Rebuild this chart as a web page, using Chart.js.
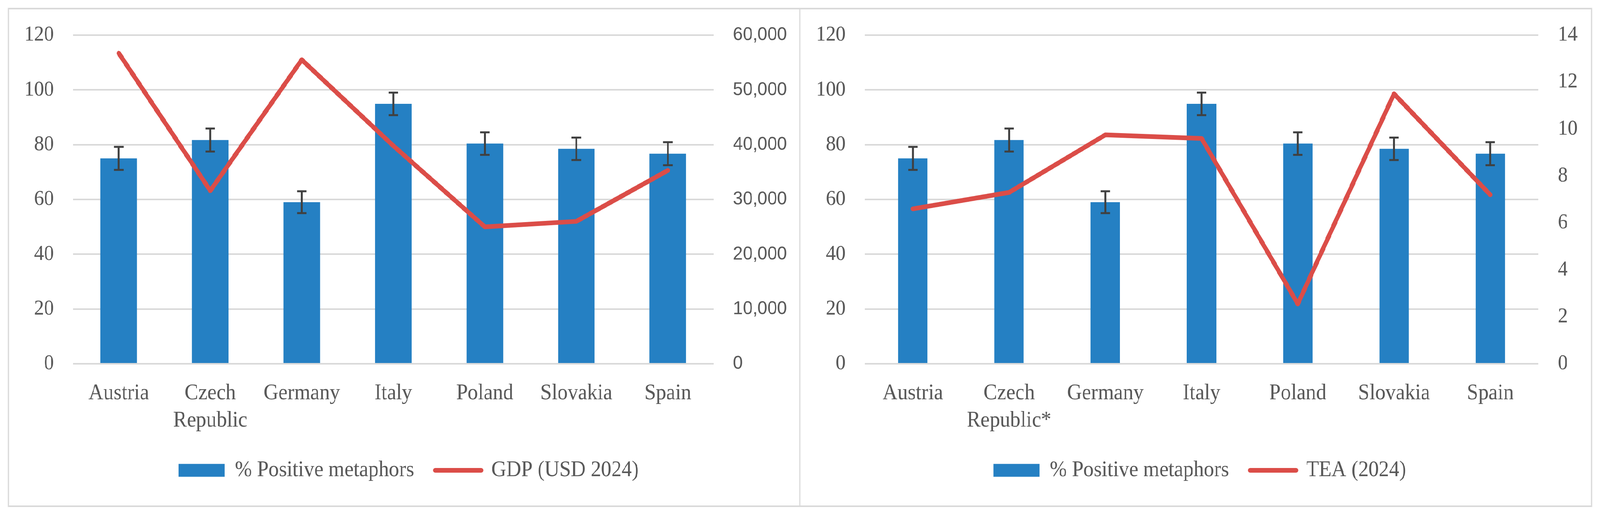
<!DOCTYPE html>
<html>
<head>
<meta charset="utf-8">
<script src="https://cdn.jsdelivr.net/npm/chart.js@4/dist/chart.umd.min.js"></script>
<style>
  html, body { margin: 0; padding: 0; background: #ffffff; overflow: hidden; }
  #page { position: absolute; left: 0; top: 0; width: 4361px; height: 1322px; transform-origin: 0 0; background: #fff; }
  #frame { position: absolute; left: 21px; top: 20px; width: 4319px; height: 1279px; border: 4px solid #d9d9d9; box-sizing: border-box; }
  #divider { position: absolute; left: 2178px; top: 20px; width: 4px; height: 1279px; background: #d9d9d9; }
  canvas { position: absolute; top: 0; }
  #c1 { left: 0; }
  #c2 { left: 2180px; }
</style>
</head>
<body>
<div id="page">
<div id="frame"></div>
<div id="divider"></div>
<canvas id="c1" width="2180" height="1322"></canvas>
<canvas id="c2" width="2181" height="1322"></canvas>
</div>
<script>
// ---- data ----
const countriesGDP = ['Austria', ['Czech', 'Republic'], 'Germany', 'Italy', 'Poland', 'Slovakia', 'Spain'];
const countriesTEA = ['Austria', ['Czech', 'Republic*'], 'Germany', 'Italy', 'Poland', 'Slovakia', 'Spain'];
const positiveMetaphors = [75.0, 81.7, 59.0, 94.9, 80.4, 78.5, 76.7];
const positiveErrors = [4.2, 4.2, 4.0, 4.1, 4.1, 4.1, 4.2];
const gdpUSD2024 = [56700, 31600, 55500, 39800, 25000, 26000, 35300];
const tea2024 = [6.6, 7.3, 9.75, 9.6, 2.55, 11.5, 7.2];
const barLabel = '% Positive metaphors';
const gdpLabel = 'GDP (USD 2024)';
const teaLabel = 'TEA (2024)';

const BLUE = '#2580C3';
const RED = '#DB4D48';
const GREY_TEXT = '#595959';
const GRID = '#d9d9d9';

// fit the 4361x1322 page into the viewport actually given
(function fit() {
  const W = window.innerWidth || 4361, H = window.innerHeight || 1322;
  const sx = W / 4361, sy = H / 1322;
  document.getElementById('page').style.transform = 'scale(' + sx + ',' + sy + ')';
})();

const errorBarPlugin = {
  id: 'errorBars',
  afterDatasetDraw(chart, args) {
    if (args.index !== 0) return;
    const ds = chart.data.datasets[0];
    const ys = chart.scales.y;
    const ctx = chart.ctx;
    ctx.save();
    ctx.strokeStyle = '#404040';
    ctx.lineWidth = 5;
    ctx.lineCap = 'butt';
    args.meta.data.forEach((bar, i) => {
      const v = ds.data[i], e = ds.errors[i];
      const x = bar.x;
      const yt = ys.getPixelForValue(v + e);
      const yb = ys.getPixelForValue(v - e);
      const hw = 13;
      ctx.beginPath();
      ctx.moveTo(x, yt); ctx.lineTo(x, yb);
      ctx.moveTo(x - hw, yt); ctx.lineTo(x + hw, yt);
      ctx.moveTo(x - hw, yb); ctx.lineTo(x + hw, yb);
      ctx.stroke();
    });
    ctx.restore();
  }
};

function build(id, labels, barPct, lineData, lineLabel, y1cfg, geo) {
  return new Chart(document.getElementById(id), {
    data: {
      labels: labels,
      datasets: [
        { type: 'bar', label: barLabel, data: positiveMetaphors, errors: positiveErrors,
          backgroundColor: BLUE, borderWidth: 0, barPercentage: barPct, categoryPercentage: 1,
          yAxisID: 'y', order: 2 },
        { type: 'line', label: lineLabel, data: lineData, borderColor: RED, backgroundColor: RED,
          borderWidth: 12, borderJoinStyle: 'round', borderCapStyle: 'round',
          pointRadius: 0, pointHoverRadius: 0, tension: 0, yAxisID: 'y1', order: 1 }
      ]
    },
    options: {
      responsive: false, animation: false, devicePixelRatio: 1,
      layout: { padding: { left: geo.padL, right: geo.padR, top: 90, bottom: 79 } },
      plugins: {
        tooltip: { enabled: false },
        legend: {
          position: 'bottom', align: 'center',
          labels: {
            usePointStyle: true, pointStyleWidth: 125, boxHeight: 33, padding: 58,
            color: GREY_TEXT, font: { family: 'Liberation Serif', size: 56 },
            generateLabels: (chart) => {
              const items = Chart.defaults.plugins.legend.labels.generateLabels(chart);
              items.forEach(it => {
                const ds = chart.data.datasets[it.datasetIndex];
                it.pointStyle = ds.type === 'line' ? 'line' : 'rect';
                if (ds.type === 'line') { it.lineWidth = 12; it.lineCap = 'round'; it.strokeStyle = RED; }
                else { it.lineWidth = 0; }
              });
              return items.sort((a, b) => a.datasetIndex - b.datasetIndex);
            }
          }
        }
      },
      scales: {
        x: {
          grid: { display: false, drawTicks: false }, border: { display: false },
          ticks: { color: GREY_TEXT, padding: 41, maxRotation: 0, autoSkip: false,
                   font: { family: 'Liberation Serif', size: 56, lineHeight: 1.25 } },
          afterFit(s) { s.height = 187; }
        },
        y: {
          position: 'left', min: 0, max: 120,
          ticks: { stepSize: 20, padding: 52, color: GREY_TEXT, font: { family: 'Liberation Serif', size: 54 } },
          grid: { color: GRID, lineWidth: 4, drawTicks: false }, border: { display: false },
          afterFit(s) { s.width = geo.yW; }
        },
        y1: {
          position: 'right', min: 0, max: y1cfg.max,
          ticks: { stepSize: y1cfg.step, padding: 53, color: GREY_TEXT, font: y1cfg.font,
                   callback: v => Number(v).toLocaleString('en-US') },
          grid: { display: false, drawTicks: false }, border: { display: false },
          afterFit(s) { s.width = geo.y1W; }
        }
      }
    },
    plugins: [errorBarPlugin]
  });
}

build('c1', countriesGDP, 0.4, gdpUSD2024, gdpLabel,
      { max: 60000, step: 10000, font: { family: 'Liberation Sans', size: 48 } },
      { padL: 48, padR: 0, yW: 151, y1W: 235 });
build('c2', countriesTEA, 0.305, tea2024, teaLabel,
      { max: 14, step: 2, font: { family: 'Liberation Serif', size: 54 } },
      { padL: 20, padR: 20, yW: 157, y1W: 148 });
</script>
</body>
</html>
